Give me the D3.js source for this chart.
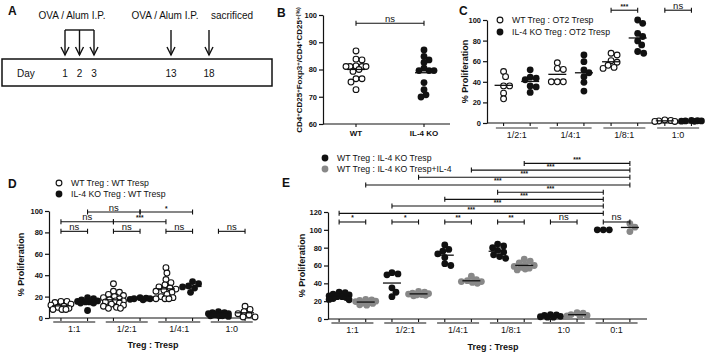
<!DOCTYPE html>
<html>
<head>
<meta charset="utf-8">
<script src="https://cdn.jsdelivr.net/npm/d3@7"></script>
<style>
  body { margin: 0; background: #fff; }
  text { font-family: "Liberation Sans", Arial, sans-serif; fill: #111; }
</style>
</head>
<body>
<svg id="fig" width="708" height="353"></svg>
<script>
// ---- data ----
// A: immunisation schedule
const injectDays = [1, 2, 3];
const boostDays = [13];
const sacDays = [18];
const dayTicks = [1, 2, 3, 13, 18];

// B: Treg frequency
const bCats = ['WT', 'IL-4 KO'];
const bWT = [86.8, 83.8, 83.5, 81.3, 81.1, 81.1, 81.1, 81.1, 80, 79.3, 76.6, 76.6, 75.4, 72.6];
const bKO = [87.2, 84.8, 83.5, 82.6, 80.5, 79.6, 79.6, 79.6, 75.2, 72.6, 70.7, 69.9];

// C: OT2 Tresp
const cCats = ['1/2:1', '1/4:1', '1/8:1', '1:0'];
const cWT = [
  [50, 45, 36, 36, 29, 23.5],
  [58.5, 53, 52, 40, 40, 40],
  [67.7, 66, 60.5, 59, 56, 54, 53],
  [3, 2.5, 2, 1.5, 1.5]
];
const cKO = [
  [51.6, 44.5, 43.5, 42, 36, 35, 29.7],
  [66, 59.5, 51.5, 48.8, 45, 39.5, 31],
  [100, 96.8, 87, 84, 79.7, 75.8, 69.4, 67.7],
  [2.5, 2.2, 2, 2, 1.8, 1.6]
];

// D: WT Tresp
const dCats = ['1:1', '1/2:1', '1/4:1', '1:0'];
const dWT = [
  [15.5, 15.5, 14.5, 13, 12, 11, 10, 9, 8, 8, 8],
  [32, 25, 24, 22, 21, 20, 19, 18, 17, 16, 16, 15, 14, 13, 12, 11, 10, 9, 9],
  [47, 42, 36, 33, 31, 29, 28, 27, 26, 25, 24, 22, 20, 19, 18, 18, 18],
  [6, 5, 5, 4, 4, 4, 3, 3, 3, 2, 2, 2, 1.5]
];
const dKO = [
  [19, 18, 17, 16, 15.5, 15, 15, 14, 14, 7],
  [19, 18.5, 18, 18, 17.5, 17],
  [34, 32, 30, 29, 28, 24],
  [11, 8, 6, 4, 3, 1, 1]
];
const dSolidWT = ['1:0'];   // dense column drawn solid
const dOpenKO = ['1:0'];    // drawn open in the figure

// E: IL-4 KO Tresp +/- IL-4
const eCats = ['1:1', '1/2:1', '1/4:1', '1/8:1', '1:0', '0:1'];
const eKO = [
  [30, 29.5, 28, 27, 26, 25, 25, 24, 23, 22, 21.5],
  [52, 50.5, 49.5, 35, 30, 25],
  [83, 78, 76, 73, 69, 62, 60],
  [84, 82, 80, 77, 75, 72, 70, 68],
  [5, 4.5, 4, 3, 2.5, 2, 2],
  [100, 100, 100]
];
const eIL4 = [
  [22, 21.5, 21, 20, 19.5, 19, 18, 17.5, 16, 15.5],
  [31, 30, 29, 28.5, 28, 27.5, 27, 26.5, 26],
  [48, 44, 43, 42, 42, 41, 40],
  [67, 65, 63, 61, 60, 59, 58, 57, 56, 55],
  [7, 6.5, 5, 4, 3.5, 3],
  [107, 103, 98]
];

// significance brackets: [group, series] -> [group, series], level in y units
const bSig = [{ a: ['WT', 0], b: ['IL-4 KO', 0], level: 97, label: 'ns' }];
const cSig = [
  { a: ['1/8:1', 0], b: ['1/8:1', 1], level: 109.5, label: '***' },
  { a: ['1:0', 0], b: ['1:0', 1], level: 109.5, label: 'ns' }
];
const dSig = [
  { a: ['1:1', 0], b: ['1:1', 1], level: 81, label: 'ns' },
  { a: ['1/2:1', 0], b: ['1/2:1', 1], level: 81, label: 'ns' },
  { a: ['1/4:1', 0], b: ['1/4:1', 1], level: 81, label: 'ns' },
  { a: ['1:0', 0], b: ['1:0', 1], level: 81, label: 'ns' },
  { a: ['1:1', 0], b: ['1/2:1', 0], level: 90, label: 'ns' },
  { a: ['1/2:1', 0], b: ['1/4:1', 0], level: 90, label: '***' },
  { a: ['1:1', 1], b: ['1/2:1', 1], level: 99, label: 'ns' },
  { a: ['1/2:1', 1], b: ['1/4:1', 1], level: 99, label: '*' }
];
const eSig = [
  { a: ['1:1', 0], b: ['1:1', 1], level: 108.8, label: '*' },
  { a: ['1/2:1', 0], b: ['1/2:1', 1], level: 108.8, label: '*' },
  { a: ['1/4:1', 0], b: ['1/4:1', 1], level: 108.8, label: '**' },
  { a: ['1/8:1', 0], b: ['1/8:1', 1], level: 108.8, label: '**' },
  { a: ['1:0', 0], b: ['1:0', 1], level: 108.8, label: 'ns' },
  { a: ['0:1', 0], b: ['0:1', 1], level: 108.8, label: 'ns' },
  { a: ['1:1', 0], b: ['0:1', 0], level: 118.5, label: '***' },
  { a: ['1/2:1', 0], b: ['0:1', 0], level: 126.7, label: '***' },
  { a: ['1/4:1', 0], b: ['0:1', 0], level: 134.2, label: '***' },
  { a: ['1/8:1', 0], b: ['0:1', 0], level: 142.1, label: '***' },
  { a: ['1:1', 1], b: ['0:1', 1], level: 150.3, label: '***' },
  { a: ['1/2:1', 1], b: ['0:1', 1], level: 158.9, label: '***' },
  { a: ['1/4:1', 1], b: ['0:1', 1], level: 167, label: '***' },
  { a: ['1/8:1', 1], b: ['0:1', 1], level: 174.5, label: '***' }
];

// ---- drawing ----
const svg = d3.select('#fig');
const R = 3.4;
const BLACK = '#111';
const GREY = '#888';
const SPREAD = 10;   // max sideways jitter, px

// compact beeswarm: spread sideways within SPREAD, overlap allowed when crowded
function swarm(values, cx, y) {
  const placed = [];
  const minD = 2 * R * 0.8;
  values.slice().sort((a, b) => b - a).forEach((v) => {
    const py = y(v);
    let best = 0, bestD = -1;
    for (let k = 0; k < 40; k++) {
      const cand = k === 0 ? 0 : (k % 2 ? 1 : -1) * Math.ceil(k / 2) * 1.0;
      if (Math.abs(cand) > SPREAD) break;
      const d = placed.length ? d3.min(placed, (p) => Math.hypot(p.x - (cx + cand), p.y - py)) : 99;
      if (d >= minD) { best = cand; bestD = d; break; }
      if (d > bestD) { bestD = d; best = cand; }
    }
    placed.push({ x: cx + best, y: py });
  });
  return placed;
}

function panelLetter(x, y, t) {
  svg.append('text').attr('x', x).attr('y', y)
    .style('font-size', '12px').style('font-weight', 'bold').text(t);
}

function yAxis(g, y, ticks, x) {
  const ax = g.append('g').attr('transform', `translate(${x},0)`)
    .call(d3.axisLeft(y).tickValues(ticks).tickSize(4).tickSizeOuter(0).tickPadding(2));
  ax.select('.domain').attr('stroke', BLACK).attr('stroke-width', 1.2);
  ax.selectAll('.tick line').attr('stroke', BLACK).attr('stroke-width', 1.2);
  ax.selectAll('text').style('font-size', '7.5px').style('font-weight', 'bold')
    .style('font-family', '"Liberation Sans", Arial, sans-serif').attr('fill', BLACK);
}

function yLabel(g, x, y, t) {
  g.append('text').attr('transform', `translate(${x},${y}) rotate(-90)`)
    .attr('text-anchor', 'middle').style('font-size', '9px').style('font-weight', 'bold').text(t);
}

function bracket(g, x1, x2, yy, label) {
  g.append('line').attr('x1', x1).attr('x2', x2).attr('y1', yy).attr('y2', yy)
    .attr('stroke', BLACK).attr('stroke-width', 1.1);
  [x1, x2].forEach((x) => g.append('line').attr('x1', x).attr('x2', x)
    .attr('y1', yy - 2.5).attr('y2', yy + 2.5).attr('stroke', BLACK).attr('stroke-width', 1.1));
  const small = label !== 'ns';
  g.append('text').attr('x', (x1 + x2) / 2).attr('y', yy - 1.5)
    .attr('text-anchor', 'middle')
    .style('font-size', small ? '6.5px' : '9.5px')
    .style('font-weight', small ? 'bold' : 'normal').text(label);
}

function drawColumn(g, vals, cx, y, style) {
  const pts = swarm(vals, cx, y);
  g.selectAll(null).data(pts).enter().append('circle')
    .attr('cx', (d) => d.x).attr('cy', (d) => d.y).attr('r', style.open ? R - 0.5 : R)
    .attr('fill', style.open ? '#fff' : style.color)
    .attr('stroke', style.color).attr('stroke-width', style.open ? 1.1 : 0);
  const m = d3.mean(vals);
  g.append('line').attr('x1', cx - 9).attr('x2', cx + 9).attr('y1', y(m)).attr('y2', y(m))
    .attr('stroke', BLACK).attr('stroke-width', 1.3);
}

// grouped scatter panel (C, D, E)
function groupedPanel(o) {
  const g = svg.append('g');
  const y = d3.scaleLinear().domain([0, o.yMax]).range([o.y0, o.y1]);
  const x = d3.scaleBand().domain(o.cats).range(o.xRange).padding(0);
  const col = (c, s) => x(c) + x.bandwidth() / 2 + (s === 0 ? -13.3 : 13.3);

  // x axis baseline with column ticks
  g.append('line').attr('x1', o.axisX).attr('x2', o.axisEnd).attr('y1', y(0)).attr('y2', y(0))
    .attr('stroke', BLACK).attr('stroke-width', 1.2);
  o.cats.forEach((c) => {
    [0, 1].forEach((s) => g.append('line').attr('x1', col(c, s)).attr('x2', col(c, s))
      .attr('y1', y(0)).attr('y2', y(0) + 3).attr('stroke', BLACK).attr('stroke-width', 1.1));
    const cx = x(c) + x.bandwidth() / 2;
    g.append('line').attr('x1', cx - 21).attr('x2', cx + 21)
      .attr('y1', y(0) + o.barGap).attr('y2', y(0) + o.barGap)
      .attr('stroke', o.barColor).attr('stroke-width', o.barWidth);
    g.append('text').attr('x', cx).attr('y', y(0) + o.barGap + 10)
      .attr('text-anchor', 'middle').style('font-size', '9px').text(c);
  });
  yAxis(g, y, d3.range(0, o.yMax + 1, 20), o.axisX);

  o.series.forEach((se, s) => {
    se.values.forEach((vals, i) => {
      const c = o.cats[i];
      let st = { open: se.open, color: se.color };
      if (se.flip && se.flip.includes(c)) st = { open: !se.open, color: se.color };
      drawColumn(g, vals, col(c, s), y, st);
    });
  });

  o.sig.forEach((b) => bracket(g, col(b.a[0], b.a[1]), col(b.b[0], b.b[1]), y(b.level), b.label));

  // legend
  o.series.forEach((se, s) => {
    const ly = o.legendY + s * o.legendStep;
    g.append('circle').attr('cx', o.legendX).attr('cy', ly).attr('r', se.open ? R - 0.5 : R)
      .attr('fill', se.open ? '#fff' : se.color).attr('stroke', se.color)
      .attr('stroke-width', se.open ? 1.1 : 0);
    g.append('text').attr('x', o.legendX + 12).attr('y', ly + 3)
      .style('font-size', '8.7px').text(se.name);
  });
  yLabel(g, o.yLabelX, (o.y0 + o.y1) / 2, '% Proliferation');
  if (o.xTitle) {
    g.append('text').attr('x', o.xTitle[0]).attr('y', o.xTitle[1]).attr('text-anchor', 'middle')
      .style('font-size', '9px').style('font-weight', 'bold').text('Treg : Tresp');
  }
}

// ---- Panel A ----
(function () {
  const g = svg.append('g');
  const xd = d3.scaleLinear().domain([1, 3, 13, 18]).range([65, 94, 171, 209]);
  g.append('rect').attr('x', 2).attr('y', 59).attr('width', 270).attr('height', 27)
    .attr('fill', 'none').attr('stroke', BLACK).attr('stroke-width', 1.5);
  g.append('text').attr('x', 17).attr('y', 77).style('font-size', '10px').text('Day');
  g.selectAll(null).data(dayTicks).enter().append('text')
    .attr('x', (d) => xd(d)).attr('y', 77).attr('text-anchor', 'middle')
    .style('font-size', '10px').text((d) => d);
  const arrow = (x) => {
    g.append('line').attr('x1', x).attr('x2', x).attr('y1', 30).attr('y2', 55)
      .attr('stroke', BLACK).attr('stroke-width', 1.4);
    g.append('path').attr('d', `M${x - 4},47 L${x},55 L${x + 4},47`)
      .attr('fill', 'none').attr('stroke', BLACK).attr('stroke-width', 1.4);
  };
  [...injectDays, ...boostDays, ...sacDays].forEach((d) => arrow(xd(d)));
  g.append('line').attr('x1', xd(injectDays[0])).attr('x2', xd(injectDays[injectDays.length - 1]))
    .attr('y1', 30).attr('y2', 30).attr('stroke', BLACK).attr('stroke-width', 1.4);
  const lab = (x, t) => g.append('text').attr('x', x).attr('y', 19).attr('text-anchor', 'middle')
    .style('font-size', '10px').text(t);
  lab(72, 'OVA / Alum I.P.');
  lab(165, 'OVA / Alum I.P.');
  lab(232, 'sacrificed');
})();
panelLetter(8, 15, 'A');

// ---- Panel B ----
(function () {
  const g = svg.append('g');
  const y = d3.scaleLinear().domain([60, 100]).range([124, 15]);
  const x = d3.scalePoint().domain(bCats).range([322, 458]).padding(0.5);
  g.append('line').attr('x1', 323).attr('x2', 450).attr('y1', y(60)).attr('y2', y(60))
    .attr('stroke', BLACK).attr('stroke-width', 1.2);
  bCats.forEach((c) => {
    g.append('line').attr('x1', x(c)).attr('x2', x(c)).attr('y1', y(60)).attr('y2', y(60) + 3)
      .attr('stroke', BLACK).attr('stroke-width', 1.1);
    g.append('text').attr('x', x(c)).attr('y', 136).attr('text-anchor', 'middle')
      .style('font-size', '8px').style('font-weight', 'bold').text(c);
  });
  yAxis(g, y, d3.range(60, 101, 10), 323);
  drawColumn(g, bWT, x('WT'), y, { open: true, color: BLACK });
  drawColumn(g, bKO, x('IL-4 KO'), y, { open: false, color: BLACK });
  bSig.forEach((b) => bracket(g, x(b.a[0]), x(b.b[0]), y(b.level), b.label));
  const t = g.append('text').attr('transform', `translate(302,70) rotate(-90)`)
    .attr('text-anchor', 'middle').style('font-size', '8px').style('font-weight', 'bold');
  const parts = [['CD4', 0], ['+', 1], ['CD25', 0], ['+', 1], ['Foxp3', 0], ['+', 1], ['/CD4', 0], ['+', 1], ['CD25', 0], ['+', 1], ['(%)', 1]];
  parts.forEach(([s, sup]) => t.append('tspan').text(s)
    .attr('baseline-shift', sup ? '40%' : '0').style('font-size', sup ? '6px' : '8px'));
})();
panelLetter(277, 17, 'B');

// ---- Panel C ----
groupedPanel({
  cats: cCats, yMax: 100, y0: 123, y1: 20, xRange: [490, 705], axisX: 487, axisEnd: 703,
  barGap: 5, barColor: '#999', barWidth: 2,
  series: [
    { name: 'WT Treg : OT2 Tresp', values: cWT, open: true, color: BLACK },
    { name: 'IL-4 KO Treg : OT2 Tresp', values: cKO, open: false, color: BLACK }
  ],
  sig: cSig, legendX: 500, legendY: 20, legendStep: 12, yLabelX: 468
});
panelLetter(459, 15, 'C');

// ---- Panel D ----
groupedPanel({
  cats: dCats, yMax: 100, y0: 318, y1: 211, xRange: [48, 258], axisX: 49, axisEnd: 258,
  barGap: 4, barColor: BLACK, barWidth: 1.2,
  series: [
    { name: 'WT Treg : WT Tresp', values: dWT, open: true, color: BLACK, flip: dSolidWT },
    { name: 'IL-4 KO Treg : WT Tresp', values: dKO, open: false, color: BLACK, flip: dOpenKO }
  ],
  sig: dSig, legendX: 59, legendY: 183, legendStep: 11, yLabelX: 24, xTitle: [153, 348]
});
panelLetter(8, 188, 'D');

// ---- Panel E ----
groupedPanel({
  cats: eCats, yMax: 120, y0: 319, y1: 212, xRange: [326, 643], axisX: 328, axisEnd: 647,
  barGap: 4, barColor: BLACK, barWidth: 1.2,
  series: [
    { name: 'WT Treg : IL-4 KO Tresp', values: eKO, open: false, color: BLACK },
    { name: 'WT Treg : IL-4 KO Tresp+IL-4', values: eIL4, open: false, color: GREY }
  ],
  sig: eSig, legendX: 325, legendY: 158, legendStep: 11, yLabelX: 305, xTitle: [493, 350]
});
panelLetter(282, 187, 'E');
</script>
</body>
</html>
